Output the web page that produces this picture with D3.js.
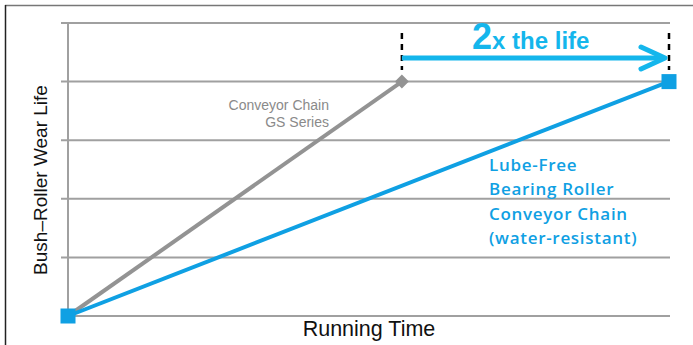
<!DOCTYPE html>
<html><head><meta charset="utf-8">
<script src="https://cdn.jsdelivr.net/npm/d3@7"></script>
<style>body{margin:0;background:#fff}svg{display:block}</style>
</head><body><svg id="c" width="693" height="345"></svg>
<script>
// Data
const yTicks = [0, 1, 2, 3, 4, 5];
const grayTime = [0, 10];
const grayLife = [0, 4];
const blueTime = [0, 18];
const blueLife = [0, 4];
const grayLabel = ["Conveyor Chain", "GS Series"];
const blueLabel = ["Lube-Free", "Bearing Roller", "Conveyor Chain", "(water-resistant)"];
const xTitle = "Running Time";
const yTitle = "Bush–Roller Wear Life";

const svg = d3.select("#c");
const x = d3.scaleLinear().domain([0, 18]).range([68, 669]);
const y = d3.scaleLinear().domain([0, 5]).range([316, 23]);

// frame
svg.append("line").attr("x1",5).attr("x2",693).attr("y1",5.5).attr("y2",5.5).attr("stroke","#777").attr("stroke-width",1.5);
svg.append("line").attr("x1",5.5).attr("x2",5.5).attr("y1",5).attr("y2",345).attr("stroke","#222").attr("stroke-width",1.5);

// grid
svg.append("g").selectAll("line").data(yTicks).join("line")
  .attr("x1",61).attr("x2",670).attr("y1",d=>y(d)).attr("y2",d=>y(d))
  .attr("stroke","#a0a0a0").attr("stroke-width",2);
svg.append("line").attr("x1",x(0)).attr("x2",x(0)).attr("y1",y(5)-1).attr("y2",y(0))
  .attr("stroke","#a0a0a0").attr("stroke-width",2);

const line = d3.line().x(d=>x(d[0])).y(d=>y(d[1]));
// gray line
svg.append("path").attr("d", line(d3.zip(grayTime, grayLife))).attr("fill","none")
  .attr("stroke","#939393").attr("stroke-width",4);
svg.append("path").attr("d", "M0,-7L7,0L0,7L-7,0Z")
  .attr("transform",`translate(${x(grayTime[1])},${y(grayLife[1])})`).attr("fill","#939393");
// blue line
svg.append("path").attr("d", line(d3.zip(blueTime, blueLife))).attr("fill","none")
  .attr("stroke","#0fa0e3").attr("stroke-width",4);
d3.zip(blueTime, blueLife).forEach(p=>{
  svg.append("rect").attr("x",x(p[0])-7.5).attr("y",y(p[1])-7.5).attr("width",15).attr("height",15).attr("fill","#0fa0e3");
});

// dashed markers
[grayTime[1], blueTime[1]].forEach(t=>{
  svg.append("line").attr("x1",x(t)).attr("x2",x(t)).attr("y1",33).attr("y2",70)
    .attr("stroke","#000").attr("stroke-width",2.5).attr("stroke-dasharray","6,5");
});
// arrow
const ay = 58;
svg.append("line").attr("x1",x(grayTime[1])).attr("x2",x(blueTime[1])-5).attr("y1",ay).attr("y2",ay)
  .attr("stroke","#14b6ec").attr("stroke-width",5);
svg.append("path").attr("d",`M${x(blueTime[1])-28},${ay-11}L${x(blueTime[1])-4},${ay}L${x(blueTime[1])-28},${ay+11}`)
  .attr("fill","none").attr("stroke","#14b6ec").attr("stroke-width",5).attr("stroke-linecap","round").attr("stroke-linejoin","round");
const t2 = svg.append("text").attr("x",472).attr("y",49).attr("fill","#14b6ec")
  .attr("font-family","'Liberation Sans', Arial, sans-serif").attr("font-weight","bold");
t2.append("tspan").attr("font-size",36).text("2");
t2.append("tspan").attr("font-size",24).text("x the life");

// labels
svg.append("g").selectAll("text").data(grayLabel).join("text")
  .attr("x",329).attr("y",(d,i)=>110+i*17).attr("text-anchor","end")
  .attr("font-family","'Liberation Sans Narrow', 'Arial Narrow', sans-serif").attr("font-size",14)
  .attr("fill","#8a8a8a").text(d=>d);
svg.append("g").selectAll("text").data(blueLabel).join("text")
  .attr("x",489).attr("y",(d,i)=>171+i*24.3)
  .attr("font-family","'Open Sans', sans-serif").attr("font-size",17).attr("font-weight",600)
  .attr("letter-spacing",0.7)
  .attr("fill","#0fa0e3").text(d=>d);

// axis titles
svg.append("text").attr("x",369).attr("y",336).attr("text-anchor","middle")
  .attr("font-family","'Liberation Sans', Arial, sans-serif").attr("font-size",21.5).attr("fill","#111").text(xTitle);
svg.append("text").attr("transform","translate(47,180) rotate(-90)").attr("text-anchor","middle")
  .attr("font-family","'Liberation Sans', Arial, sans-serif").attr("font-size",19).attr("fill","#111").text(yTitle);
</script></body></html>
